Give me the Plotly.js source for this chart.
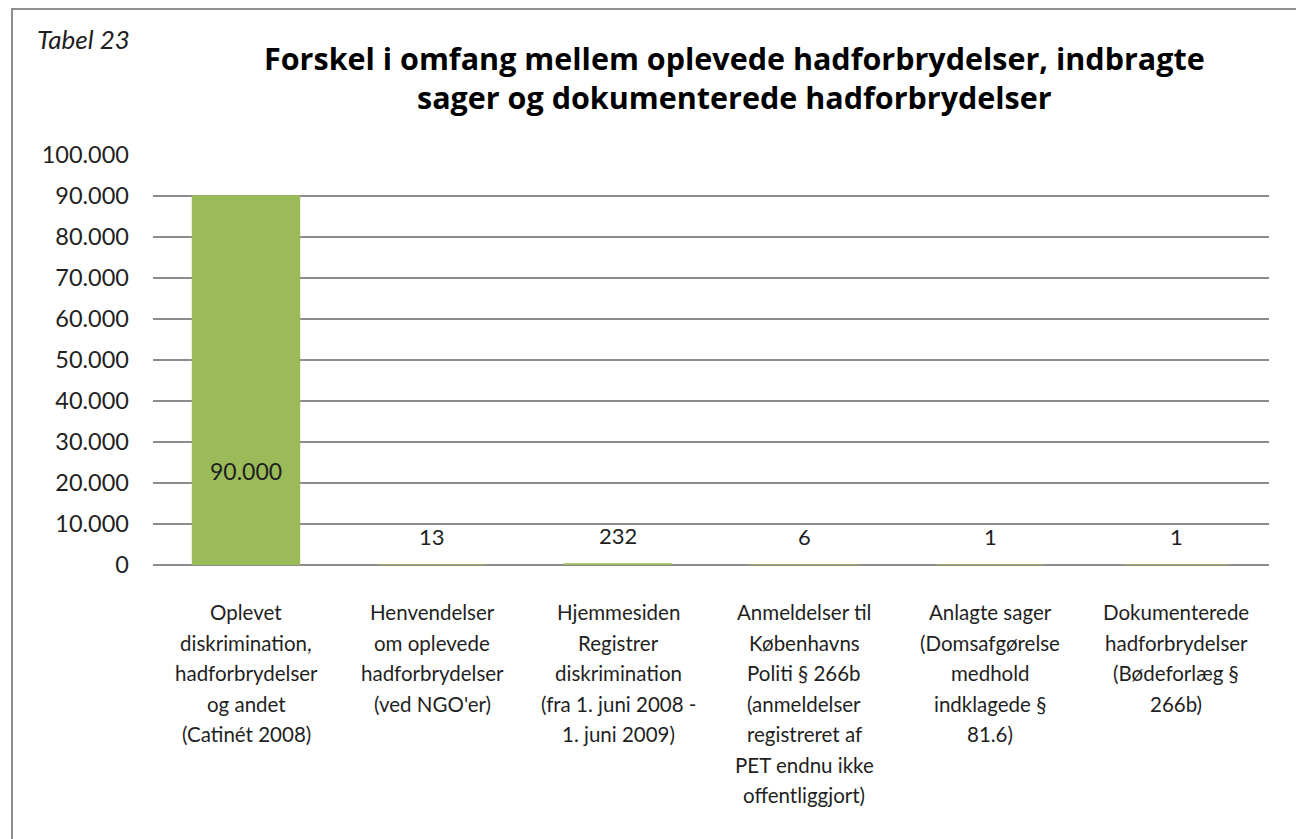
<!DOCTYPE html>
<html>
<head>
<meta charset="utf-8">
<script src="https://cdn.plot.ly/plotly-3.0.1.min.js"></script>
<style>
  html, body { margin: 0; padding: 0; background: #ffffff; overflow: hidden; }
  #chart { width: 1296px; height: 839px; }
  #frame { position: absolute; left: 11px; top: 8px; width: 1400px; height: 1000px;
           border: 2px solid #8e8e8e; pointer-events: none; box-sizing: border-box; }
</style>
</head>
<body>
<div id="chart"></div>
<div id="frame"></div>
<script>
// ---- Data ----
const categories = [
  "Oplevet<br>diskrimination,<br>hadforbrydelser<br>og andet<br>(Catinét 2008)",
  "Henvendelser<br>om oplevede<br>hadforbrydelser<br>(ved NGO'er)",
  "Hjemmesiden<br>Registrer<br>diskrimination<br>(fra 1. juni 2008 -<br>1. juni 2009)",
  "Anmeldelser til<br>Københavns<br>Politi § 266b<br>(anmeldelser<br>registreret af<br>PET endnu ikke<br>offentliggjort)",
  "Anlagte sager<br>(Domsafgørelse<br>medhold<br>indklagede §<br>81.6)",
  "Dokumenterede<br>hadforbrydelser<br>(Bødeforlæg §<br>266b)"
];
const values = [90000, 13, 232, 6, 1, 1];
const yTickValues = [0, 10000, 20000, 30000, 40000, 50000, 60000, 70000, 80000, 90000, 100000];
const titleLines = [
  "Forskel i omfang mellem oplevede hadforbrydelser, indbragte",
  "sager og dokumenterede hadforbrydelser"
];
const tableLabel = "Tabel 23";

// ---- Helpers ----
function fmtDa(v) {
  return String(Math.round(v)).replace(/\B(?=(\d{3})+(?!\d))/g, ".");
}

const FONT = "Lato, 'Open Sans', sans-serif";
const TFONT = "'Open Sans', Lato, sans-serif";
const GREEN = "#9bbb59";
const TXT = "#1f1f1f";

const xIdx = categories.map((_, i) => i);

const trace = {
  type: "bar",
  x: xIdx,
  y: values,
  marker: { color: GREEN, line: { color: GREEN, width: 1.5 } },
  hoverinfo: "skip"
};

const annotations = [];
// value labels
values.forEach((v, i) => {
  if (v > 10000) {
    annotations.push({
      x: i, y: v * 0.255, xref: "x", yref: "y",
      text: fmtDa(v), showarrow: false, yanchor: "middle",
      font: { family: FONT, size: 23, color: TXT }
    });
  } else {
    annotations.push({
      x: i, y: v, xref: "x", yref: "y",
      text: fmtDa(v), showarrow: false, yanchor: "bottom", yshift: 13,
      font: { family: FONT, size: 22, color: TXT }
    });
  }
});
// category labels, one annotation per line for Excel-like line spacing
categories.forEach((c, i) => {
  c.split("<br>").forEach((line, j) => {
    annotations.push({
      x: i, y: 0, xref: "x", yref: "y",
      text: line, showarrow: false, xanchor: "center", yanchor: "middle",
      yshift: -(47 + 30.5 * j),
      font: { family: FONT, size: 20.5, color: TXT }
    });
  });
});
// title lines
annotations.push({
  x: 0.5215, y: 1.2366, xref: "paper", yref: "paper",
  text: "<b>" + titleLines[0] + "</b>", showarrow: false,
  xanchor: "center", yanchor: "middle",
  font: { family: TFONT, size: 30.5, color: "#000000" }
});
annotations.push({
  x: 0.5215, y: 1.1415, xref: "paper", yref: "paper",
  text: "<b>" + titleLines[1] + "</b>", showarrow: false,
  xanchor: "center", yanchor: "middle",
  font: { family: TFONT, size: 30.5, color: "#000000" }
});
annotations.push({
  x: -0.106, y: 1.282, xref: "paper", yref: "paper",
  text: "<i>" + tableLabel + "</i>", showarrow: false,
  xanchor: "left", yanchor: "middle",
  font: { family: FONT, size: 26, color: TXT }
});

const layout = {
  width: 1296, height: 839,
  margin: { l: 153, r: 27, t: 155, b: 274 },
  paper_bgcolor: "#ffffff", plot_bgcolor: "#ffffff",
  separators: ",.",
  showlegend: false,
  bargap: 0.425,
  font: { family: FONT, size: 20, color: TXT },
  xaxis: {
    tickmode: "array", tickvals: xIdx,
    range: [-0.5, categories.length - 0.5],
    showgrid: false, zeroline: false, showline: false,
    ticks: "", showticklabels: false, fixedrange: true
  },
  yaxis: {
    range: [0, 100000],
    tickmode: "array", tickvals: yTickValues,
    tickformat: ",d",
    showgrid: true, gridcolor: "#8c8c8c", gridwidth: 1.5,
    zeroline: true, zerolinecolor: "#8c8c8c", zerolinewidth: 1.5,
    showline: false, ticks: "", ticklabelstandoff: 23,
    tickfont: { family: FONT, size: 23.5, color: TXT },
    fixedrange: true
  },
  annotations: annotations
};

Plotly.newPlot("chart", [trace], layout, { displayModeBar: false, staticPlot: true });
</script>
</body>
</html>
